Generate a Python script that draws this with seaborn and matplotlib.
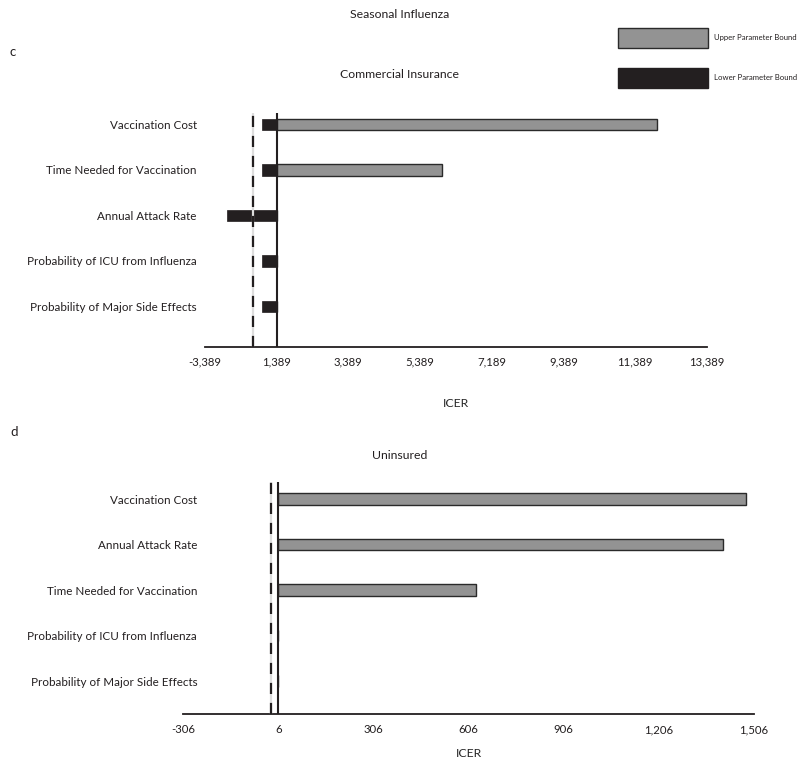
import numpy as np
import pandas as pd
import matplotlib
matplotlib.use("Agg")
import matplotlib.pyplot as plt
import seaborn as sns
from matplotlib.patches import Patch

# ---------------- data ----------------
params_c = ["Vaccination Cost", "Time Needed for Vaccination", "Annual Attack Rate",
            "Probability of ICU from Influenza", "Probability of Major Side Effects"]
upper_c = [11990, 5990, 1389, 1389, 1389]
lower_c = [990, 990, -10, 990, 990]
base_c = 1389
ref_c = 719
ticks_c = ["-3,389", "1,389", "3,389", "5,389", "7,189", "9,389", "11,389", "13,389"]
tickpos_c = [-611, 1389, 3389, 5389, 7389, 9389, 11389, 13389]

params_d = ["Vaccination Cost", "Annual Attack Rate", "Time Needed for Vaccination",
            "Probability of ICU from Influenza", "Probability of Major Side Effects"]
upper_d = [1480, 1408, 630, 6, 6]
lower_d = [6, 6, 6, 6, 6]
base_d = 6
ref_d = -18
ticks_d = ["-306", "6", "306", "606", "906", "1,206", "1,506"]
tickpos_d = [-294, 6, 306, 606, 906, 1206, 1506]

GRAY = "#939393"
BLACK = "#231f20"
EDGE = "#2a2a2a"

sns.set_theme(style="white")
FONT = ["Lato", "DejaVu Sans"]
plt.rcParams["font.family"] = FONT
plt.rcParams["text.color"] = "#231f20"
plt.rcParams["xtick.color"] = "#231f20"
plt.rcParams["ytick.color"] = "#231f20"

fig = plt.figure(figsize=(8.0, 7.69), dpi=100)

def panel(rect, params, upper, lower, base, ref, tickpos, ticklabels, ylim, ypad, xlpad):
    ax = fig.add_axes(rect)
    df = pd.DataFrame({"param": params,
                       "up": np.array(upper) - base,
                       "lo": np.array(lower) - base})
    sns.barplot(data=df, y="param", x="up", orient="h", color=GRAY,
                edgecolor=EDGE, linewidth=1.0, width=0.25, saturation=1, ax=ax)
    sns.barplot(data=df, y="param", x="lo", orient="h", color=BLACK,
                edgecolor=BLACK, linewidth=0.5, width=0.25, saturation=1, ax=ax)
    ax.set_xlim(tickpos[0] - base, tickpos[-1] - base)
    ax.set_ylim(*ylim)
    ax.axvline(ref - base, color="#dddddd", lw=1.6, zorder=3)
    ax.axvline(ref - base, color=BLACK, lw=1.6, dashes=(5, 4), zorder=4)
    ax.axvline(0, color=BLACK, lw=1.5, zorder=5)
    for s in ["top", "right", "left"]:
        ax.spines[s].set_visible(False)
    ax.spines["bottom"].set_color(BLACK)
    ax.spines["bottom"].set_linewidth(1.3)
    ax.set_xticks(np.array(tickpos) - base)
    ax.set_xticklabels(ticklabels, fontsize=8.2)
    ax.tick_params(axis="x", direction="in", length=5, width=1.3, color=BLACK, pad=7)
    ax.tick_params(axis="y", length=0, pad=ypad, labelsize=8.4)
    ax.set_ylabel("")
    ax.set_xlabel("ICER", fontsize=8.8, labelpad=xlpad)
    return ax

ax_c = panel([0.2563, 0.5488, 0.6271, 0.3043], params_c, upper_c, lower_c, base_c, ref_c,
             tickpos_c, ticks_c, (4.89, -0.25), 6, 22)
ax_d = panel([0.2291, 0.0711, 0.7134, 0.3025], params_d, upper_d, lower_d, base_d, ref_d,
             tickpos_d, ticks_d, (4.73, -0.38), -10, 9)

fig.text(0.5, 1 - 14 / 769, "Seasonal Influenza", ha="center", va="center", fontsize=8.8)
fig.text(0.5, 1 - 74 / 769, "Commercial Insurance", ha="center", va="center", fontsize=8.8)
fig.text(0.5, 1 - 455 / 769, "Uninsured", ha="center", va="center", fontsize=8.8)
fig.text(10 / 800, 1 - 52 / 769, "c", ha="left", va="center", fontsize=9.5)
fig.text(10 / 800, 1 - 432 / 769, "d", ha="left", va="center", fontsize=9.5)

handles = [Patch(facecolor=GRAY, edgecolor=EDGE, linewidth=1.0, label="Upper Parameter Bound"),
           Patch(facecolor=BLACK, edgecolor=BLACK, label="Lower Parameter Bound")]
fig.legend(handles=handles, loc="upper left", bbox_to_anchor=(616 / 800, 1 - 26 / 769),
           frameon=False, fontsize=5.6, handlelength=11.6, handleheight=3.6,
           labelspacing=2.57, handletextpad=0.8, borderpad=0.2, borderaxespad=0)

fig.savefig("out.png", dpi=100)
